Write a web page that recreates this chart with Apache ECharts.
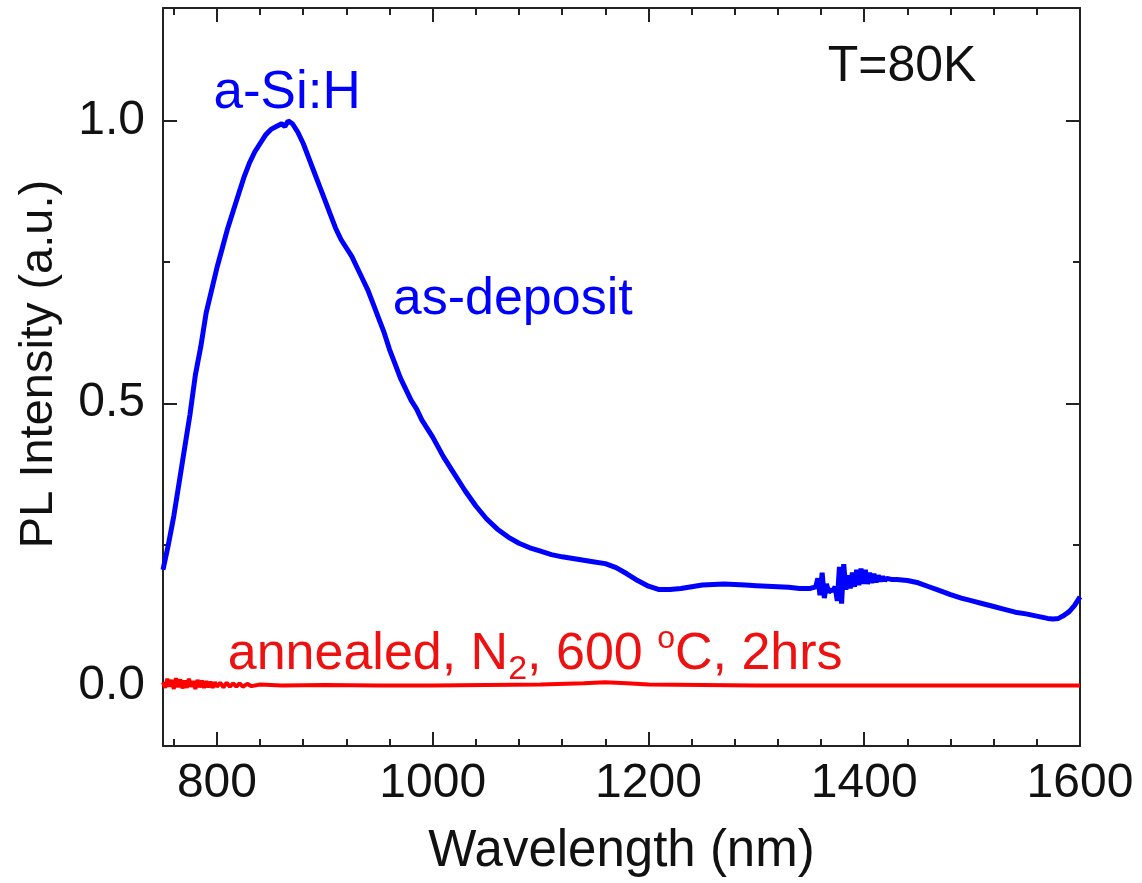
<!DOCTYPE html>
<html>
<head>
<meta charset="utf-8">
<script src="https://cdn.jsdelivr.net/npm/echarts@6/dist/echarts.min.js"></script>
<style>
html,body{margin:0;padding:0;background:#fff;}
#main{width:1142px;height:883px;}
</style>
</head>
<body>
<div id="main"></div>
<script>
// ---- data ----
const asDepWavelength = [750,755,760,765,770,775,780,785,790,795,800,805,810,815,820,825,830,835,840,845,850,855,860,863,866,870,875,880,885,890,895,900,905,910,915,920,925,930,935,940,945,950,955,960,965,970,975,980,985,990,995,1000,1010,1020,1030,1040,1050,1060,1070,1080,1090,1100,1110,1120,1130,1140,1150,1160,1170,1180,1190,1200,1210,1220,1230,1240,1250,1260,1270,1280,1290,1300,1310,1320,1330,1340,1350,1355,1357,1359,1361,1363,1365,1367,1369,1371,1373,1375,1377,1379,1381,1383,1385,1387,1389,1391,1393,1395,1397,1399,1401,1403,1405,1407,1409,1411,1413,1415,1417,1419,1421,1425,1430,1440,1450,1460,1470,1480,1490,1500,1510,1520,1530,1540,1550,1560,1570,1575,1580,1585,1590,1595,1600];
const asDepIntensity = [0.205,0.25,0.30,0.36,0.42,0.48,0.55,0.60,0.66,0.70,0.74,0.775,0.81,0.84,0.87,0.90,0.925,0.945,0.96,0.975,0.985,0.99,0.995,0.99,1.0,0.995,0.98,0.96,0.935,0.91,0.885,0.86,0.835,0.81,0.79,0.775,0.76,0.74,0.72,0.70,0.675,0.65,0.625,0.595,0.57,0.545,0.525,0.505,0.49,0.47,0.455,0.44,0.405,0.375,0.345,0.318,0.295,0.277,0.263,0.252,0.244,0.238,0.232,0.228,0.225,0.222,0.219,0.216,0.209,0.198,0.186,0.176,0.170,0.170,0.172,0.175,0.178,0.179,0.180,0.179,0.178,0.177,0.176,0.175,0.174,0.172,0.172,0.175,0.19,0.16,0.20,0.155,0.18,0.165,0.17,0.168,0.175,0.150,0.21,0.145,0.215,0.17,0.195,0.172,0.20,0.175,0.205,0.178,0.207,0.18,0.205,0.18,0.20,0.182,0.198,0.183,0.195,0.185,0.193,0.186,0.19,0.188,0.188,0.186,0.182,0.175,0.168,0.161,0.155,0.150,0.145,0.140,0.135,0.130,0.127,0.123,0.119,0.118,0.119,0.124,0.131,0.142,0.157];

const annealWavelength = [750,752,754,756,758,760,762,764,766,768,770,772,774,776,778,780,782,784,786,788,790,792,794,796,798,800,803,806,809,812,815,818,821,824,828,832,840,860,900,950,1000,1050,1100,1140,1160,1180,1200,1250,1300,1400,1500,1600];
const annealIntensity = [0.006,-0.004,0.012,-0.002,0.010,-0.006,0.013,-0.003,0.011,-0.005,0.009,-0.004,0.012,-0.002,0.008,-0.006,0.010,-0.003,0.009,-0.004,0.008,-0.003,0.007,-0.004,0.006,-0.002,0.005,-0.003,0.005,-0.002,0.004,-0.002,0.004,-0.002,0.003,-0.001,0.002,0.0,0.001,0.0,0.0,0.001,0.002,0.004,0.006,0.004,0.002,0.001,0.0,0.0,0.0,0.0];

const xMajorTicks = [800,1000,1200,1400,1600];
const xMinorTicks = [760,840,880,920,960,1040,1080,1120,1160,1240,1280,1320,1360,1440,1480,1520,1560];
const yMajorTicks = [0,0.5,1.0];
const yMinorTicks = [0.25,0.75];

const xRange = [750,1600];
const yRange = [-0.107,1.2];

// ---- chart ----
const FONT = 'Liberation Sans, Arial, Helvetica, sans-serif';
const chart = echarts.init(document.getElementById('main'), null, {renderer:'canvas'});

function xAxisDef(pos, ticks, len, withLine, withLabel, name){
  return {
    type:'value', position:pos, min:xRange[0], max:xRange[1],
    axisLine:{show:withLine, onZero:false, lineStyle:{color:'#222', width:2}},
    axisTick:{show:true, inside:true, length:len, customValues:ticks, lineStyle:{color:'#222', width:2}},
    axisLabel:{show:withLabel, customValues:ticks, margin:14, color:'#111', fontSize:48, fontFamily:FONT,
      formatter:function(v){return String(v);}},
    splitLine:{show:false},
    name:name||'', nameLocation:'middle', nameGap:80,
    nameTextStyle:{color:'#111', fontSize:51, fontFamily:FONT}
  };
}
function yAxisDef(pos, ticks, len, withLine, withLabel, name){
  return {
    type:'value', position:pos, min:yRange[0], max:yRange[1],
    axisLine:{show:withLine, onZero:false, lineStyle:{color:'#222', width:2}},
    axisTick:{show:true, inside:true, length:len, customValues:ticks, lineStyle:{color:'#222', width:2}},
    axisLabel:{show:withLabel, customValues:ticks, margin:18, color:'#111', fontSize:48, fontFamily:FONT,
      formatter:function(v){return v.toFixed(1);}},
    splitLine:{show:false},
    name:name||'', nameLocation:'middle', nameGap:100,
    nameTextStyle:{color:'#111', fontSize:47, fontFamily:FONT, padding:[0,0,0,26]}
  };
}

const option = {
  animation:false,
  backgroundColor:'#ffffff',
  grid:{left:163, right:62, top:8, bottom:137, containLabel:false},
  xAxis:[
    xAxisDef('bottom', xMajorTicks, 14, true, true, 'Wavelength (nm)'),
    xAxisDef('bottom', xMinorTicks, 7, false, false),
    xAxisDef('top', xMajorTicks, 14, true, false),
    xAxisDef('top', xMinorTicks, 7, false, false)
  ],
  yAxis:[
    yAxisDef('left', yMajorTicks, 14, true, true, 'PL Intensity (a.u.)'),
    yAxisDef('left', yMinorTicks, 7, false, false),
    yAxisDef('right', yMajorTicks, 14, true, false),
    yAxisDef('right', yMinorTicks, 7, false, false)
  ],
  series:[
    {
      name:'annealed', type:'line', xAxisIndex:0, yAxisIndex:0,
      data: annealWavelength.map((x,i)=>[x, annealIntensity[i]]),
      showSymbol:false, lineStyle:{color:'#ff0000', width:4}, z:2
    },
    {
      name:'as-deposit', type:'line', xAxisIndex:0, yAxisIndex:0,
      data: asDepWavelength.map((x,i)=>[x, asDepIntensity[i]]),
      showSymbol:false, lineStyle:{color:'#0000ff', width:5}, z:3
    }
  ]
};
chart.setOption(option);

function px(x,y){ return chart.convertToPixel({xAxisIndex:0, yAxisIndex:0}, [x,y]); }
const pA = px(865, 1.048);
const pB = px(963, 0.684);
const pT = px(1504, 1.096);
const pN = px(810, 0.054);

chart.setOption({
  graphic:[
    {type:'text', x:pA[0], y:pA[1], style:{text:'a-Si:H', fill:'#0000ff', fontSize:53, fontFamily:FONT, align:'center', verticalAlign:'middle'}},
    {type:'text', x:pB[0], y:pB[1], style:{text:'as-deposit', fill:'#0000ff', fontSize:52, fontFamily:FONT, align:'left', verticalAlign:'middle'}},
    {type:'text', x:pT[0], y:pT[1], style:{text:'T=80K', fill:'#111', fontSize:50, fontFamily:FONT, align:'right', verticalAlign:'middle'}},
    {type:'text', x:pN[0], y:pN[1], style:{
      text:'{a|annealed, N}{s|2}{a|, 600 }{o|o}{a|C, 2hrs}',
      fill:'#ee1111', align:'left', verticalAlign:'middle',
      rich:{
        a:{fontSize:52, fontFamily:FONT, fill:'#ee1111', lineHeight:64, verticalAlign:'middle'},
        s:{fontSize:34, fontFamily:FONT, fill:'#ee1111', lineHeight:34, verticalAlign:'bottom'},
        o:{fontSize:32, fontFamily:FONT, fill:'#ee1111', lineHeight:32, verticalAlign:'top'}
      }
    }}
  ]
});
</script>
</body>
</html>
